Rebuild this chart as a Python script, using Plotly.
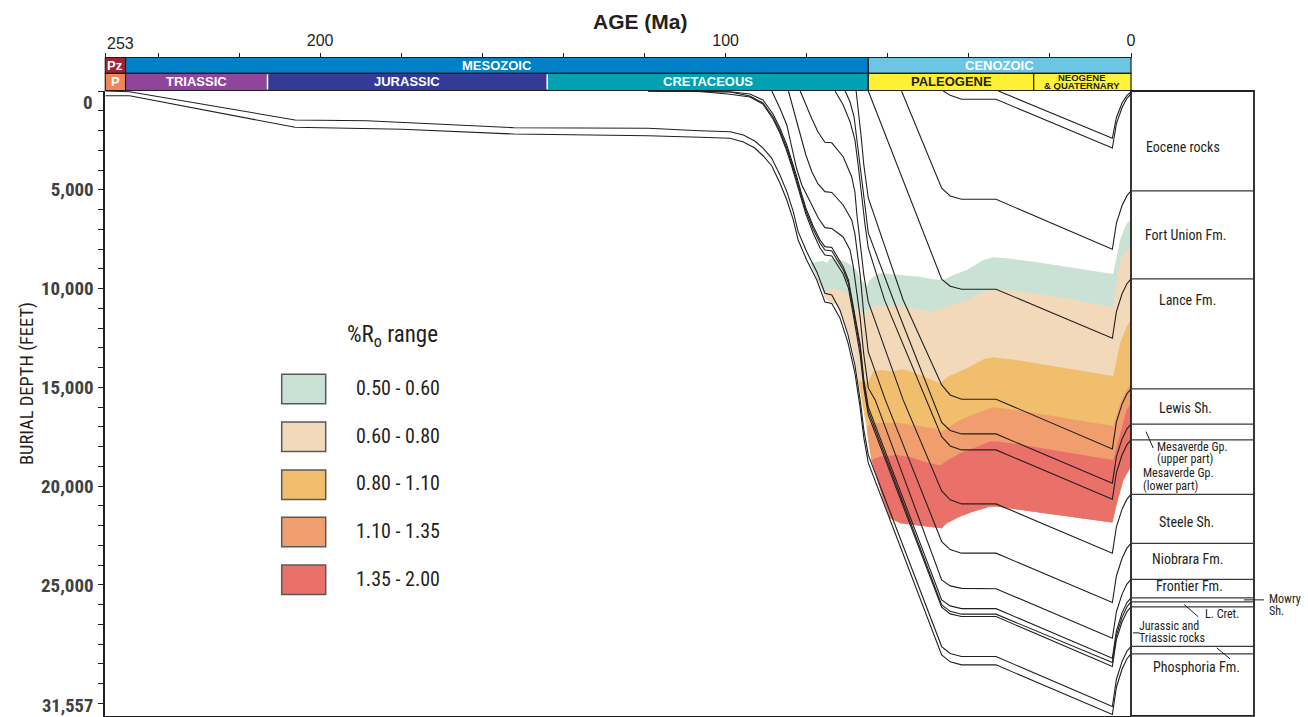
import plotly.graph_objects as go

# ---------------------------------------------------------------
# Burial history and thermal maturity (%Ro) - age in Ma, depth in ft
# ---------------------------------------------------------------

W, H = 1308, 717
PLOT_L, PLOT_R = 105.3, 1131.0      # pixel x of age 253 and age 0
PLOT_T, PLOT_B = 91.0, 714.5        # pixel y of depth 0 and max depth
COL_R = 1254.0                      # right edge of the stratigraphic column
BAR_TOP, BAR_MID, BAR_BOT = 57.5, 73.3, 90.5

AGE_START = 253
DEPTH_MAX = 31557

NARROW = "'Liberation Sans Narrow', 'Arial Narrow', 'Roboto Condensed', sans-serif"
SANS = "'Liberation Sans', Arial, sans-serif"
INK = "#231F20"

# ---------------- geologic time scale ----------------
era_names = ["Pz", "MESOZOIC", "CENOZOIC"]
era_start = [253, 248, 64.8]
era_end = [248, 64.8, 0]
era_colors = ["#9E2334", "#0080C6", "#6AC6E2"]

period_names = ["P", "TRIASSIC", "JURASSIC", "CRETACEOUS", "PALEOGENE", "NEOGENE"]
period_start = [253, 248, 213, 144, 64.8, 24.0]
period_end = [248, 213, 144, 64.8, 24.0, 0]
period_colors = ["#F0865A", "#8F459B", "#343A97", "#00A1B2", "#FFF033", "#FFF23A"]
period_text_colors = ["white", "white", "white", "white", INK, INK]

age_tick_values = [0, 20, 40, 60, 80, 100, 120, 140, 160, 180, 200, 220, 240, 253]
age_tick_labels = ["0", "", "", "", "", "100", "", "", "", "", "200", "", "", ""]

depth_tick_labels = [5000, 10000, 15000, 20000, 25000]

# ---------------- burial curves: tops of units ----------------
eocene_a_age = [46.3, 44.6, 41.8, 33.3, 4.6, 3.6, 2.2, 1.0, 0]
eocene_a_depth = [0, 220, 420, 420, 2884, 1654, 834, 369, 150]

eocene_b_age = [32.7, 4.6, 3.6, 2.2, 1.0, 0]
eocene_b_depth = [0, 2393, 1340, 610, 220, 50]

fort_union_age = [56.6, 46.7, 44.6, 41.8, 33.3, 4.6, 3.6, 2.2, 1.0, 0]
fort_union_depth = [0, 4923, 5313, 5480, 5480, 8010, 6683, 5798, 5296, 5060]

lance_age = [64.8, 46.7, 44.6, 41.8, 33.3, 4.6, 3.6, 2.2, 1.0, 0]
lance_depth = [0, 9528, 9882, 10034, 10034, 12513, 11163, 10263, 9753, 9510]

lewis_age = [67.8, 67.3, 66.6, 65.9, 64.8, 56.2, 46.7, 44.6, 41.8, 33.3, 4.6, 3.6, 2.2, 1.0, 0]
lewis_depth = [0, 860, 2226, 3744, 5414, 10575, 14876, 15382, 15600, 15600, 18115, 16749,
               15839, 15323, 15080]

mv_upper_age = [70.5, 69.3, 68.3, 67.6, 66.8, 65.9, 64.8, 58.6, 46.7, 44.6, 41.8, 33.3, 4.6,
                3.6, 2.2, 1.0, 0]
mv_upper_depth = [0, 557, 1316, 2479, 3744, 5515, 7185, 10575, 16774, 17179, 17356, 17356,
                  19850, 18505, 17608, 17099, 16860]

mv_lower_age = [73.0, 71.0, 69.3, 68.1, 67.3, 66.4, 65.6, 64.8, 60.8, 46.7, 44.6, 41.8, 33.3,
                4.6, 3.6, 2.2, 1.0, 0]
mv_lower_depth = [0, 708, 1553, 2479, 3744, 5515, 6780, 7944, 10575, 17492, 17963, 18165,
                  18165, 20660, 19310, 18410, 17900, 17660]

steele_age = [81.6, 80.2, 78.7, 77.2, 75.5, 73.8, 71.0, 68.9, 68.1, 67.6, 66.8, 65.9, 64.8,
              56.2, 46.7, 44.6, 41.8, 33.3, 4.6, 3.6, 2.2, 1.0, 0]
steele_depth = [0, 708, 1417, 2075, 2596, 2621, 3324, 4336, 5111, 6274, 7792, 9310, 10677,
                15635, 20240, 20695, 20898, 20898, 23392, 22055, 21163, 20658, 20420]

niobrara_age = [84.5, 83.1, 81.6, 80.2, 78.7, 77.2, 75.5, 73.8, 71.0, 68.9, 68.1, 67.6, 66.8,
                65.9, 64.8, 60.6, 46.7, 44.6, 41.8, 33.3, 4.6, 3.6, 2.2, 1.0, 0]
niobrara_depth = [0, 1063, 2226, 3238, 4099, 4706, 5095, 5136, 5768, 6527, 7236, 8045, 9310,
                  11334, 13207, 15635, 22805, 23210, 23392, 23392, 25892, 24546, 23648,
                  23139, 22900]

frontier_age = [88.6, 86.6, 84.9, 83.7, 82.5, 81.2, 79.2, 77.1, 75.5, 73.8, 71.0, 69.3, 68.5,
                67.7, 66.8, 65.9, 64.8, 63.1, 46.7, 44.6, 41.8, 33.3, 4.6, 3.6, 2.2, 1.0, 0]
frontier_depth = [0, 875, 1720, 2899, 3911, 4756, 5601, 6441, 6917, 6958, 7388, 8045, 8890,
                  10221, 11486, 13358, 15028, 15635, 24743, 25047, 25174, 25190, 27693,
                  26355, 25463, 24958, 24720]

early_k_age = [119.1, 106.3, 98.9, 94.0, 90.8, 88.3, 86.6, 84.9, 83.7, 82.5, 81.4, 80.2, 78.4,
               76.7, 75.5, 73.8, 71.0, 69.7, 68.5, 67.6, 66.8, 65.9, 64.8, 46.7, 44.6, 41.8,
               33.3, 4.6, 3.6, 2.2, 1.0, 0]
mowry_depth = [0, 10, 35, 152, 455, 1164, 1872, 2732, 3491, 4301, 5111, 5920, 6831, 7539,
               7878, 7919, 8890, 9563, 10914, 11840, 12852, 14623, 15990, 25755, 26059,
               26200, 26200, 28705, 27330, 26414, 25894, 25650]
lower_cret_depth = [0, 15, 50, 253, 607, 1316, 2024, 2884, 3643, 4453, 5262, 6072, 6983,
                    7691, 8045, 8096, 9042, 9715, 11066, 11992, 13004, 14775, 16192, 26008,
                    26337, 26479, 26479, 28928, 27547, 26627, 26106, 25860]
jur_tri_depth = [0, 25, 167, 304, 658, 1417, 2125, 3036, 3795, 4605, 5414, 6224, 7185, 7944,
                 8298, 8349, 9260, 9968, 11334, 12346, 13358, 15028, 16394, 26125, 26464,
                 26600, 26600, 29130, 27771, 26865, 26352, 26110]

phos_top_age = [253, 247, 206.2, 188.5, 152.2, 119.1, 106.3, 98.9, 95.6, 92.8, 90.7, 88.6,
                86.6, 84.9, 83.3, 82.1, 80.0, 77.5, 75.5, 73.8, 71.8, 69.8, 68.1, 66.8, 65.9,
                64.8, 46.7, 44.6, 41.8, 33.3, 4.6, 3.6, 2.2, 1.0, 0]
phos_top_depth = [0, 35, 1467, 1503, 1857, 1887, 2009, 2059, 2226, 2530, 2899, 3405, 4250,
                  5095, 6107, 7119, 8131, 9143, 10237, 10322, 11081, 12346, 13864, 15635,
                  17153, 18418, 28118, 28472, 28624, 28624, 31154, 29784, 28871, 28353,
                  28110]

phos_base_age = [253, 247, 206.2, 179.8, 152.2, 119.1, 106.3, 98.9, 95.6, 92.8, 90.7, 88.6,
                 86.6, 84.9, 83.3, 82.1, 80.0, 77.5, 75.5, 73.8, 71.8, 69.8, 68.1, 66.8, 65.9,
                 64.8, 46.7, 44.6, 41.8, 33.3, 4.6, 3.6, 2.2, 1.0, 0]
phos_base_depth = [238, 238, 1837, 1938, 2176, 2262, 2343, 2393, 2581, 2884, 3289, 3795,
                   4655, 5515, 6527, 7539, 8551, 9563, 10677, 10753, 11486, 12751, 14269,
                   16040, 17558, 18823, 28538, 28892, 29044, 29044, 31557, 30177, 29257,
                   28735, 28490]

# ---------------- isoreflectance boundaries ----------------
ro_050_age = [79.2, 77.5, 75.9, 75.0, 74.2, 71.8, 69.7, 67.7, 66.8, 66.0, 65.2, 64.4, 63.6,
              61.9, 56.8, 52.0, 48.8, 46.3, 43.8, 40.5, 36.4, 34.0, 30.7, 24.1, 15.9, 4.4,
              2.7, 1.1, 0]
ro_050_depth = [8718, 8637, 8602, 8718, 8465, 8551, 8718, 9057, 9513, 9715, 9867, 9563, 9396,
                9224, 9310, 9396, 9528, 9563, 9310, 9057, 8551, 8415, 8465, 8637, 8890, 9260,
                7539, 6694, 6527]

ro_060_age = [75.9, 73.4, 71.0, 69.3, 68.5, 66.8, 66.0, 64.4, 62.7, 60.3, 56.8, 52.0, 48.8,
              45.5, 40.5, 36.4, 34.0, 28.2, 15.9, 4.4, 2.7, 1.1, 0]
ro_060_depth = [10156, 9983, 10156, 10272, 10914, 11081, 11334, 10930, 10879, 10828, 10879,
                11046, 11167, 10914, 10575, 10156, 10034, 10105, 10489, 10945, 8551, 8045,
                7878]

ro_080_age = [67.3, 66.8, 64.8, 63.6, 61.5, 58.6, 56.8, 55.3, 52.0, 48.8, 47.1, 45.1, 40.5,
              36.4, 34.0, 28.2, 4.4, 2.7, 1.1, 0]
ro_080_depth = [14537, 14709, 14760, 14203, 14117, 14203, 14082, 14117, 14370, 14623, 14790,
                14456, 14031, 13576, 13475, 13611, 14421, 12766, 11926, 11587]

ro_110_age = [65.2, 63.6, 58.6, 53.7, 48.8, 46.7, 45.5, 42.2, 38.1, 34.0, 28.2, 4.4, 2.7,
              1.1, 0]
ro_110_depth = [16986, 16814, 16784, 16900, 17067, 17239, 17067, 16647, 16308, 16005, 16141,
                16951, 15802, 15129, 14790]

ro_135_age = [64.0, 61.9, 57.8, 54.5, 50.4, 47.1, 45.5, 42.2, 38.1, 34.8, 33.1, 28.2, 4.4,
              2.7, 1.1, 0]
ro_135_depth = [18671, 18504, 18418, 18520, 18798, 18950, 18722, 18332, 18014, 17745, 17745,
                17862, 18671, 17321, 16141, 15802]

ro_200_age = [59.4, 56.8, 52.0, 46.7, 45.5, 42.2, 38.9, 34.8, 33.1, 24.1, 4.6, 3.5, 1.9, 0]
ro_200_depth = [21621, 21874, 22011, 22127, 21874, 21540, 21287, 21034, 21034, 21287, 21844,
                20862, 19683, 19010]

# left (oldest) edge of the maturity zone
ro_edge_age = [79.2, 77.7, 75.9, 75.5, 74.2, 72.6, 71.0, 69.3, 68.1, 67.3, 66.7, 65.9, 65.2,
               64.8, 64.0, 63.6, 61.1, 59.4]
ro_edge_depth = [8718, 9412, 10156, 10489, 10661, 10828, 11501, 12513, 13525, 14537, 15382,
                 16243, 16986, 17659, 18671, 18924, 20695, 21621]

ro_labels = ["0.50 - 0.60", "0.60 - 0.80", "0.80 - 1.10", "1.10 - 1.35", "1.35 - 2.00"]
ro_colors = ["#C9E2D5", "#F2D9BA", "#F1BE6E", "#F09E6E", "#EA716A"]

# ---------------- present-day stratigraphic column ----------------
column_tops = [0, 5060, 9510, 15080, 16860, 17660, 20420, 22900, 24720, 25650, 25860, 26110,
               28110, 28490]
column_names = ["Eocene rocks", "Fort Union Fm.", "Lance Fm.", "Lewis Sh.", "Steele Sh.",
                "Niobrara Fm.", "Frontier Fm.", "Phosphoria Fm."]
column_name_depth = [2818, 7286, 10601, 16040, 21809, 23681, 25072, 29146]
column_name_pos = [0.42, 0.446, 0.456, 0.446, 0.448, 0.456, 0.472, 0.534]

# ===============================================================
fig = go.Figure()

# maturity zones, painted from the shallowest boundary down
ro_tops = [(ro_050_age, ro_050_depth), (ro_060_age, ro_060_depth), (ro_080_age, ro_080_depth),
           (ro_110_age, ro_110_depth), (ro_135_age, ro_135_depth)]
for (top_a, top_d), color in zip(ro_tops, ro_colors):
    side = [(a, d) for a, d in zip(ro_edge_age, ro_edge_depth) if top_d[0] < d < ro_200_depth[0]]
    side.reverse()
    xs = list(top_a) + ro_200_age[::-1] + [a for a, _ in side] + [top_a[0]]
    ys = list(top_d) + ro_200_depth[::-1] + [d for _, d in side] + [top_d[0]]
    fig.add_trace(go.Scatter(x=xs, y=ys, mode="lines", fill="toself", fillcolor=color,
                             line=dict(width=0, color=color), hoverinfo="skip"))

# burial curves
curves = [
    (eocene_a_age, eocene_a_depth), (eocene_b_age, eocene_b_depth),
    (fort_union_age, fort_union_depth), (lance_age, lance_depth),
    (lewis_age, lewis_depth), (mv_upper_age, mv_upper_depth),
    (mv_lower_age, mv_lower_depth), (steele_age, steele_depth),
    (niobrara_age, niobrara_depth), (frontier_age, frontier_depth),
    (early_k_age, mowry_depth), (early_k_age, lower_cret_depth),
    (early_k_age, jur_tri_depth), (phos_top_age, phos_top_depth),
    (phos_base_age, phos_base_depth),
]
for ages, depths in curves:
    fig.add_trace(go.Scatter(x=ages, y=depths, mode="lines",
                             line=dict(color=INK, width=1.1), hoverinfo="skip"))

# invisible anchors so the column and time-scale axes exist
fig.add_trace(go.Scatter(x=[0.5], y=[0], xaxis="x2", yaxis="y", mode="markers",
                         marker=dict(opacity=0), hoverinfo="skip"))
fig.add_trace(go.Scatter(x=[100], y=[0], xaxis="x3", yaxis="y", mode="markers",
                         marker=dict(opacity=0), hoverinfo="skip"))

# ---------------- axes ----------------
k = (PLOT_B - PLOT_T) / DEPTH_MAX
pad_top, pad_bot = 20, 70
y_top_px = PLOT_T - pad_top * k
y_bot_px = PLOT_B + pad_bot * k
px_per_ma = (PLOT_R - PLOT_L) / AGE_START
ts_left, ts_right = 100.0, 1136.0
col_left = 1129.0

shapes = []
annotations = []


def note(text, x, y, xref="paper", yref="paper", size=14, family=NARROW, color=INK,
         xanchor="center", yanchor="middle", **kw):
    annotations.append(dict(text=text, x=x, y=y, xref=xref, yref=yref, showarrow=False,
                            xanchor=xanchor, yanchor=yanchor,
                            font=dict(family=family, size=size, color=color), **kw))


# time-scale bars
def bar_row(starts, ends, colors, y0, y1):
    for s, e, c in zip(starts, ends, colors):
        shapes.append(dict(type="rect", xref="x3", yref="paper", x0=s, x1=e,
                           y0=1 - y1 / H, y1=1 - y0 / H, fillcolor=c,
                           line=dict(color=INK, width=1.2), layer="above"))


bar_row(era_start, era_end, era_colors, BAR_TOP, BAR_MID)
bar_row(period_start, period_end, period_colors, BAR_MID, BAR_BOT)
for boundary in (213, 144):
    shapes.append(dict(type="line", xref="x3", yref="paper", x0=boundary, x1=boundary,
                       y0=1 - (BAR_BOT - 1) / H, y1=1 - (BAR_MID + 1) / H,
                       line=dict(color="white", width=1.6), layer="above"))

era_mid_y = 1 - (BAR_TOP + BAR_MID) / 2 / H
period_mid_y = 1 - (BAR_MID + BAR_BOT) / 2 / H
for name, s, e in zip(era_names, era_start, era_end):
    note("<b>%s</b>" % name, (s + e) / 2, era_mid_y, xref="x3", size=13, family=SANS,
         color="white")
for name, s, e, tc in zip(period_names[:-1], period_start, period_end, period_text_colors):
    note("<b>%s</b>" % name, (s + e) / 2, period_mid_y, xref="x3", size=13, family=SANS,
         color=tc)
neo_mid = (period_start[-1] + period_end[-1]) / 2
note("<b>NEOGENE</b>", neo_mid, 1 - 78.0 / H, xref="x3", size=9.5, family=SANS)
note("<b>&amp; QUATERNARY</b>", neo_mid, 1 - 86.0 / H, xref="x3", size=9.5, family=SANS)

note("253", AGE_START, 1 - 43.5 / H, xref="x3", xanchor="left", size=16, family=SANS)
note("<b>AGE (Ma)</b>", 640 / W, 1 - 21 / H, size=21, family=SANS)

# depth axis end labels and title
note("<b>0</b>", PLOT_L / W, 0, yref="y", xanchor="right", xshift=-10, yshift=-11,
     size=19, color="#414042")
note("<b>31,557</b>", PLOT_L / W, DEPTH_MAX, yref="y", xanchor="right", xshift=-10,
     yshift=9, size=18.5, color="#414042")
note("BURIAL DEPTH (FEET)", 27 / W, 1 - 384 / H, size=18.5, textangle=-90)

# ---------------- stratigraphic column ----------------
shapes.append(dict(type="rect", xref="x2", yref="paper", x0=0, x1=1,
                   y0=1 - y_bot_px / H, y1=1 - PLOT_T / H,
                   line=dict(color=INK, width=1.8), layer="above"))
for d in column_tops[1:]:
    shapes.append(dict(type="line", xref="x2", yref="y", x0=0, x1=1, y0=d, y1=d,
                       line=dict(color="#3A3A3A", width=1.2), layer="above"))

for name, d, pos in zip(column_names, column_name_depth, column_name_pos):
    note(name, pos, d, xref="x2", yref="y", size=14)

small_labels = [
    ("Mesaverde Gp.", 0.195, 18010), ("(upper part)", 0.195, 18620),
    ("Mesaverde Gp.", 0.081, 19330), ("(lower part)", 0.081, 19980),
    ("Mowry", 1.103, 25700), ("Sh.", 1.103, 26310),
    ("L. Cret.", 0.588, 26489),
    ("Jurassic and", 0.046, 27070), ("Triassic rocks", 0.046, 27680),
]
for text, pos, d in small_labels:
    note(text, pos, d, xref="x2", yref="y", xanchor="left", size=12)

leaders = [(0.122, 17239, 0.181, 18079), (0.919, 25755, 1.081, 25755),
           (0.433, 25993, 0.547, 26616), (0.697, 28184, 0.805, 28741),
           (0.016, 27425, 0.07, 27425)]
for x0, d0, x1, d1 in leaders:
    shapes.append(dict(type="line", xref="x2", yref="y", x0=x0, y0=d0, x1=x1, y1=d1,
                       line=dict(color=INK, width=1), layer="above"))

# ---------------- legend ----------------
sw_l, sw_r = 281.7, 325.7
sw_tops = [374.3, 422.0, 470.0, 517.3, 565.0]
for top, color, label in zip(sw_tops, ro_colors, ro_labels):
    shapes.append(dict(type="rect", xref="paper", yref="paper", x0=sw_l / W, x1=sw_r / W,
                       y0=1 - (top + 29.5) / H, y1=1 - top / H, fillcolor=color,
                       line=dict(color="#58595B", width=1.5), layer="above"))
    note(label, 354 / W, 1 - (top + 13.5) / H, xanchor="left", size=20)
note("%R<sub>o</sub> range", 392 / W, 1 - 336 / H, size=23)

tick_vals = list(range(0, DEPTH_MAX, 1000))
tick_text = ["<b>{:,}</b>".format(v) if v in depth_tick_labels else "" for v in tick_vals]

fig.update_layout(
    width=W, height=H, margin=dict(l=0, r=0, t=0, b=0),
    paper_bgcolor="white", plot_bgcolor="rgba(0,0,0,0)", showlegend=False,
    xaxis=dict(domain=[PLOT_L / W, PLOT_R / W], range=[AGE_START, 0], anchor="y",
               showline=True, linecolor=INK, linewidth=1.6, ticks="",
               showticklabels=False, showgrid=False, zeroline=False),
    xaxis2=dict(domain=[col_left / W, 1.0],
                range=[(col_left - PLOT_R) / (COL_R - PLOT_R), (W - PLOT_R) / (COL_R - PLOT_R)],
                anchor="y", visible=False, showgrid=False, zeroline=False),
    xaxis3=dict(domain=[ts_left / W, ts_right / W],
                range=[AGE_START + (PLOT_L - ts_left) / px_per_ma,
                       -(ts_right - PLOT_R) / px_per_ma],
                anchor="free", position=1 - BAR_TOP / H, side="top",
                showline=False, ticks="outside", ticklen=5, tickwidth=1, tickcolor=INK,
                tickvals=age_tick_values, ticktext=age_tick_labels,
                tickfont=dict(family=SANS, size=16, color=INK),
                showgrid=False, zeroline=False),
    yaxis=dict(domain=[1 - y_bot_px / H, 1 - y_top_px / H],
               range=[DEPTH_MAX + pad_bot, -pad_top],
               showline=True, linecolor=INK, linewidth=1.6,
               ticks="outside", ticklen=6, tickwidth=1, tickcolor=INK,
               tickvals=tick_vals, ticktext=tick_text,
               tickfont=dict(family=NARROW, size=19, color="#414042"),
               showgrid=False, zeroline=False),
    shapes=shapes, annotations=annotations,
)

fig.write_html("out.html")
